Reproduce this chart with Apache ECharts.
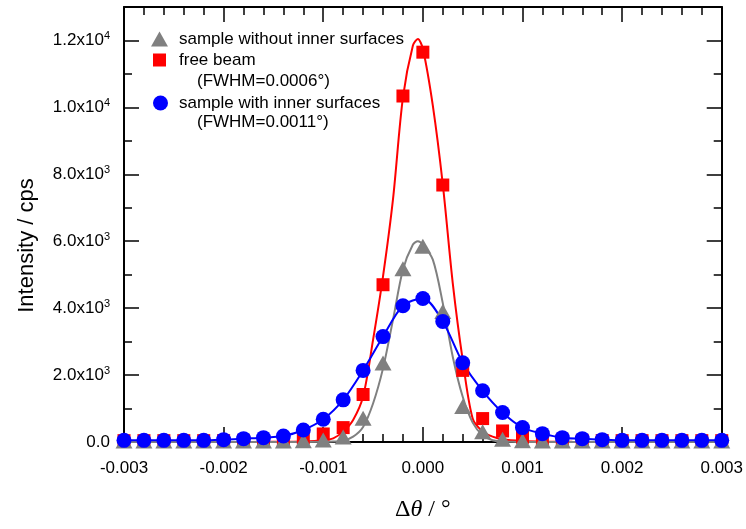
<!DOCTYPE html>
<html>
<head>
<meta charset="utf-8">
<script src="https://cdn.jsdelivr.net/npm/echarts@6/dist/echarts.min.js"></script>
<style>
html,body{margin:0;padding:0;background:#fff;}
#chart{width:746px;height:529px;}
</style>
</head>
<body>
<div id="chart"></div>
<script>
// ---- data ----
const thetaPts = [-0.0030,-0.0028,-0.0026,-0.0024,-0.0022,-0.0020,-0.0018,-0.0016,-0.0014,-0.0012,-0.0010,
  -0.0008,-0.0006,-0.0004,-0.0002,0.0000,0.0002,0.0004,0.0006,0.0008,0.0010,
  0.0012,0.0014,0.0016,0.0018,0.0020,0.0022,0.0024,0.0026,0.0028,0.0030];
const grayPts = [30,30,30,30,30,30,30,30,30,40,60,
  150,710,2360,5180,5850,3900,1060,310,80,40,
  30,30,30,30,30,30,30,30,30,30];
const redPts = [40,40,40,40,40,40,40,40,70,120,240,
  430,1420,4700,10340,11650,7680,2140,700,330,140,
  90,60,40,40,40,40,40,40,40,40];
const bluePts = [50,50,50,50,50,70,100,130,180,360,680,
  1260,2140,3150,4070,4290,3600,2370,1530,880,430,
  250,130,100,70,50,50,50,50,50,50];

const redFitX = [-0.003,-0.002,-0.0015,-0.0012,-0.001,-0.0009,-0.0008,-0.0007,-0.0006,-0.0005,-0.0004,-0.0003,-0.0002,-0.0001,-0.00005,0,0.0001,0.0002,0.0003,0.0004,0.0005,0.0006,0.0007,0.0008,0.001,0.0012,0.0015,0.002,0.003];
const redFitY = [0,2,5,15,50,110,310,660,1360,3050,4950,7250,10300,11850,12040,11750,10050,7700,4750,2450,700,310,160,80,30,15,5,2,0];
const grayFitX = [-0.003,-0.0015,-0.001,-0.0009,-0.0008,-0.0007,-0.0006,-0.0005,-0.0004,-0.0003,-0.0002,-0.0001,-0.00005,0,0.0001,0.0002,0.0003,0.0004,0.0005,0.0006,0.0007,0.0008,0.0009,0.001,0.0015,0.003];
const grayFitY = [0,0,5,15,40,160,450,1150,2200,3650,5150,5900,6000,5900,5450,4150,2550,1350,580,200,50,15,5,0,0,0];

const seriesNames = ['sample without inner surfaces','free beam','sample with inner surfaces'];
const fwhmNotes = ['(FWHM=0.0006\u00b0)','(FWHM=0.0011\u00b0)'];

const xMin = -0.003, xMax = 0.003, xStep = 0.001;
const yMin = 0, yMax = 13000, yStep = 2000;

// ---- helpers ----
const pairs = (xs, ys) => xs.map((x, i) => [x, ys[i]]);
const FONT = 'Liberation Sans, Arial, sans-serif';
function fmtY(v) {
  if (v === 0) return '0.0';
  if (v > 12500) return '';
  const e = Math.floor(Math.log10(v) + 1e-9);
  const m = (v / Math.pow(10, e)).toFixed(1);
  return m + 'x10{sup|' + e + '}';
}
function fmtX(v) {
  const s = (Math.round(v * 1000) / 1000).toFixed(3);
  return s === '-0.000' ? '0.000' : s;
}

const axisCommon = {
  axisLine: { show: true, onZero: false, lineStyle: { color: '#000', width: 2 } },
  axisTick: { show: true, inside: true, length: 15, lineStyle: { color: '#000', width: 1.5 } },
  minorTick: { show: true, length: 8, lineStyle: { color: '#000', width: 1.5 } },
  splitLine: { show: false }
};

const chart = echarts.init(document.getElementById('chart'), null, { renderer: 'canvas' });
chart.setOption({
  animation: false,
  backgroundColor: '#fff',
  grid: { left: 124, right: 24, top: 7, bottom: 87, containLabel: false },
  xAxis: [
    Object.assign({}, axisCommon, {
      type: 'value', min: xMin, max: xMax, interval: xStep, position: 'bottom',
      minorTick: Object.assign({}, axisCommon.minorTick, { splitNumber: 5 }),
      axisLabel: { formatter: fmtX, margin: 18, color: '#000', fontSize: 17, fontFamily: FONT },
      name: '\u0394{i|\u03b8} / \u00b0', nameLocation: 'middle', nameGap: 56,
      nameTextStyle: { color: '#000', fontSize: 24, fontFamily: 'Liberation Serif, Times New Roman, serif',
        rich: { i: { fontStyle: 'italic', fontSize: 24, fontFamily: 'Liberation Serif, Times New Roman, serif', color: '#000' } } }
    }),
    Object.assign({}, axisCommon, {
      type: 'value', min: xMin, max: xMax, interval: xStep, position: 'top',
      minorTick: Object.assign({}, axisCommon.minorTick, { splitNumber: 5 }),
      axisLabel: { show: false }
    })
  ],
  yAxis: [
    Object.assign({}, axisCommon, {
      type: 'value', min: yMin, max: yMax, interval: yStep, position: 'left',
      minorTick: Object.assign({}, axisCommon.minorTick, { splitNumber: 2 }),
      axisLabel: { formatter: fmtY, margin: 14, color: '#000', fontSize: 17, fontFamily: FONT,
        rich: { sup: { fontSize: 11, fontFamily: FONT, color: '#000', padding: [0, 0, 9, 0] } } },
      name: 'Intensity / cps', nameLocation: 'middle', nameGap: 86, nameRotate: 90,
      nameTextStyle: { color: '#000', fontSize: 22, fontFamily: FONT, padding: [0, 42, 0, 0] }
    }),
    Object.assign({}, axisCommon, {
      type: 'value', min: yMin, max: yMax, interval: yStep, position: 'right',
      minorTick: Object.assign({}, axisCommon.minorTick, { splitNumber: 2 }),
      axisLabel: { show: false }
    })
  ],
  legend: [
    { data: [{ name: seriesNames[0], icon: 'triangle' }], left: 146, top: 24, itemWidth: 17, itemHeight: 15,
      textStyle: { fontSize: 17, fontFamily: FONT, color: '#000', padding: [0, 0, 0, 6], lineHeight: 20 }, selectedMode: false },
    { data: [{ name: seriesNames[1], icon: 'rect' }], left: 148, top: 45, itemWidth: 13, itemHeight: 13,
      textStyle: { fontSize: 17, fontFamily: FONT, color: '#000', padding: [0, 0, 0, 8], lineHeight: 20 }, selectedMode: false },
    { data: [{ name: seriesNames[2], icon: 'circle' }], left: 148, top: 88, itemWidth: 15, itemHeight: 15,
      textStyle: { fontSize: 17, fontFamily: FONT, color: '#000', padding: [0, 0, 0, 6], lineHeight: 20 }, selectedMode: false }
  ],
  graphic: [
    { type: 'text', left: 197, top: 73, style: { text: fwhmNotes[0], fontSize: 17, fontFamily: FONT, fill: '#000' } },
    { type: 'text', left: 197, top: 114, style: { text: fwhmNotes[1], fontSize: 17, fontFamily: FONT, fill: '#000' } }
  ],
  series: [
    { name: 'free beam fit', type: 'line', data: pairs(redFitX, redFitY), smooth: 0.3, showSymbol: false,
      lineStyle: { color: '#ff0000', width: 2 }, itemStyle: { color: '#ff0000' }, z: 2, silent: true },
    { name: 'no-inner fit', type: 'line', data: pairs(grayFitX, grayFitY), smooth: 0.3, showSymbol: false,
      lineStyle: { color: '#808080', width: 2 }, itemStyle: { color: '#808080' }, z: 2, silent: true },
    { name: 'inner fit', type: 'line', data: pairs(thetaPts, bluePts), smooth: 0.3, showSymbol: false,
      lineStyle: { color: '#0000ff', width: 2 }, itemStyle: { color: '#0000ff' }, z: 2, silent: true },
    { name: seriesNames[1], type: 'scatter', data: pairs(thetaPts, redPts), symbol: 'rect', symbolSize: 13,
      itemStyle: { color: '#ff0000', opacity: 1 }, z: 3, clip: false },
    { name: seriesNames[0], type: 'scatter', data: pairs(thetaPts, grayPts), symbol: 'triangle', symbolSize: [17, 15],
      itemStyle: { color: '#808080', opacity: 1 }, z: 4, clip: false },
    { name: seriesNames[2], type: 'scatter', data: pairs(thetaPts, bluePts), symbol: 'circle', symbolSize: 15,
      itemStyle: { color: '#0000ff', opacity: 1 }, z: 5, clip: false }
  ]
});
</script>
</body>
</html>
